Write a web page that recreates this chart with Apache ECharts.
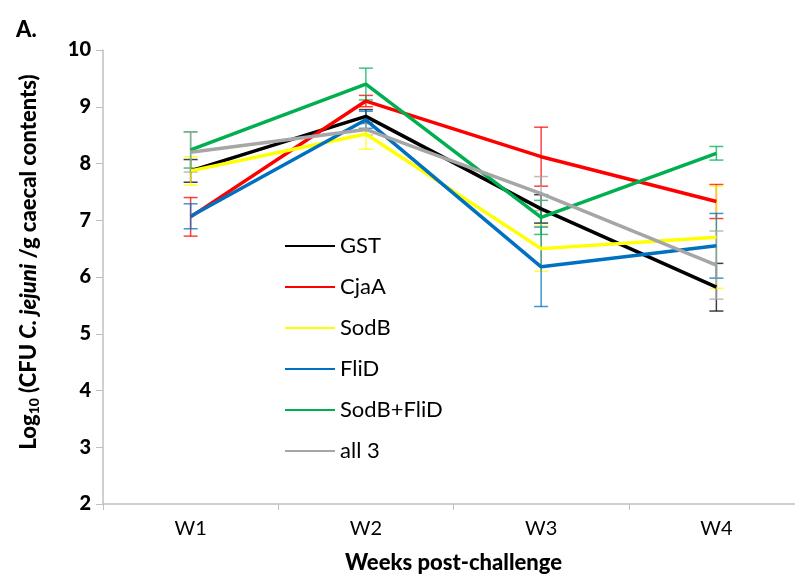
<!DOCTYPE html>
<html>
<head>
<meta charset="utf-8">
<script src="https://cdn.jsdelivr.net/npm/echarts@6/dist/echarts.min.js"></script>
<style>html,body{margin:0;padding:0;background:#fff}#c{width:795px;height:575px}</style>
</head>
<body>
<div id="c"></div>
<script>
const categories = ['W1', 'W2', 'W3', 'W4'];
const seriesNames = ['GST', 'CjaA', 'SodB', 'FliD', 'SodB+FliD', 'all 3'];
const GST = [7.87, 8.83, 7.2, 5.82];
const CjaA = [7.06, 9.1, 8.12, 7.33];
const SodB = [7.87, 8.52, 6.5, 6.7];
const FliD = [7.07, 8.77, 6.18, 6.55];
const SodB_FliD = [8.24, 9.4, 7.05, 8.18];
const all3 = [8.2, 8.6, 7.47, 6.21];
const GST_err = [0.2, 0.12, 0.25, 0.42];
const CjaA_err = [0.34, 0.1, 0.52, 0.3];
const SodB_err = [0.25, 0.27, 0.4, 0.9];
const FliD_err = [0.22, 0.15, 0.7, 0.57];
const SodB_FliD_err = [0.32, 0.28, 0.3, 0.12];
const all3_err = [0.35, 0.1, 0.3, 0.6];
const yTicks = [2, 3, 4, 5, 6, 7, 8, 9, 10];

const colors = ['#000000', '#FF0000', '#FFFF00', '#0070C0', '#00B050', '#A6A6A6'];
const values = [GST, CjaA, SodB, FliD, SodB_FliD, all3];
const errs = [GST_err, CjaA_err, SodB_err, FliD_err, SodB_FliD_err, all3_err];
const FONT = 'Lato';

const series = [];
values.forEach((vals, i) => {
  series.push({
    name: seriesNames[i] + ' err',
    type: 'custom',
    z: 1,
    silent: true,
    data: vals.map((v, j) => [j, v - errs[i][j], v + errs[i][j]]),
    renderItem: function (params, api) {
      const lo = api.coord([api.value(0), api.value(1)]);
      const hi = api.coord([api.value(0), api.value(2)]);
      const hw = 7;
      const style = { stroke: colors[i], lineWidth: 1.5, opacity: 0.75 };
      return {
        type: 'group',
        children: [
          { type: 'line', shape: { x1: lo[0], y1: lo[1], x2: hi[0], y2: hi[1] }, style: style },
          { type: 'line', shape: { x1: lo[0] - hw, y1: lo[1], x2: lo[0] + hw, y2: lo[1] }, style: style },
          { type: 'line', shape: { x1: hi[0] - hw, y1: hi[1], x2: hi[0] + hw, y2: hi[1] }, style: style }
        ]
      };
    }
  });
});
values.forEach((vals, i) => {
  series.push({
    name: seriesNames[i],
    type: 'line',
    z: 3,
    data: vals,
    symbol: 'none',
    lineStyle: { color: colors[i], width: 3.5 },
    itemStyle: { color: colors[i] }
  });
});

const chart = echarts.init(document.getElementById('c'), null, { renderer: 'canvas' });
chart.setOption({
  animation: false,
  backgroundColor: '#ffffff',
  title: {
    text: 'A.', left: 11, top: 14,
    textStyle: { fontFamily: FONT, fontWeight: 900, fontSize: 22, color: '#000' }
  },
  legend: {
    data: seriesNames,
    orient: 'vertical',
    left: 280, top: 230,
    itemWidth: 50, itemHeight: 14, itemGap: 19,
    icon: 'path://M0,6 L50,6 L50,8 L0,8 Z',
    textStyle: { fontFamily: FONT, fontSize: 22, color: '#000', padding: [0, 0, 0, 0] }
  },
  grid: { left: 103, right: -9, top: 50, bottom: 71, containLabel: false, outerBoundsMode: 'none' },
  xAxis: {
    type: 'category',
    data: categories,
    boundaryGap: true,
    name: 'Weeks post-challenge',
    nameLocation: 'middle',
    nameGap: 48,
    nameTextStyle: { fontFamily: FONT, fontWeight: 900, fontSize: 22, color: '#000' },
    axisLine: { lineStyle: { color: '#BFBFBF', width: 1.5 } },
    axisTick: { show: true, length: 6, lineStyle: { color: '#BFBFBF' } },
    axisLabel: { fontFamily: FONT, fontSize: 20, color: '#000', margin: 15 },
    splitLine: { show: false }
  },
  yAxis: {
    type: 'value',
    min: yTicks[0], max: yTicks[yTicks.length - 1], interval: 1,
    name: '{b|Log}{s|10}{b| (CFU }{i|C. jejuni}{b| /g caecal contents)}',
    nameLocation: 'middle',
    nameGap: 62,
    nameRotate: 90,
    nameTextStyle: {
      padding: [0, 0, 0, 30],
      rich: {
        b: { fontFamily: FONT, fontWeight: 900, fontSize: 22, color: '#000' },
        i: { fontFamily: FONT, fontWeight: 900, fontStyle: 'italic', fontSize: 22, color: '#000' },
        s: { fontFamily: FONT, fontWeight: 900, fontSize: 14, color: '#000', verticalAlign: 'bottom', padding: [10, 0, 0, 0] }
      }
    },
    axisLine: { show: true, lineStyle: { color: '#BFBFBF', width: 1.5 } },
    axisTick: { show: true, length: 7, lineStyle: { color: '#BFBFBF' } },
    axisLabel: { fontFamily: FONT, fontWeight: 900, fontSize: 20, color: '#000', margin: 12 },
    splitLine: { show: false }
  },
  series: series
});
</script>
</body>
</html>
